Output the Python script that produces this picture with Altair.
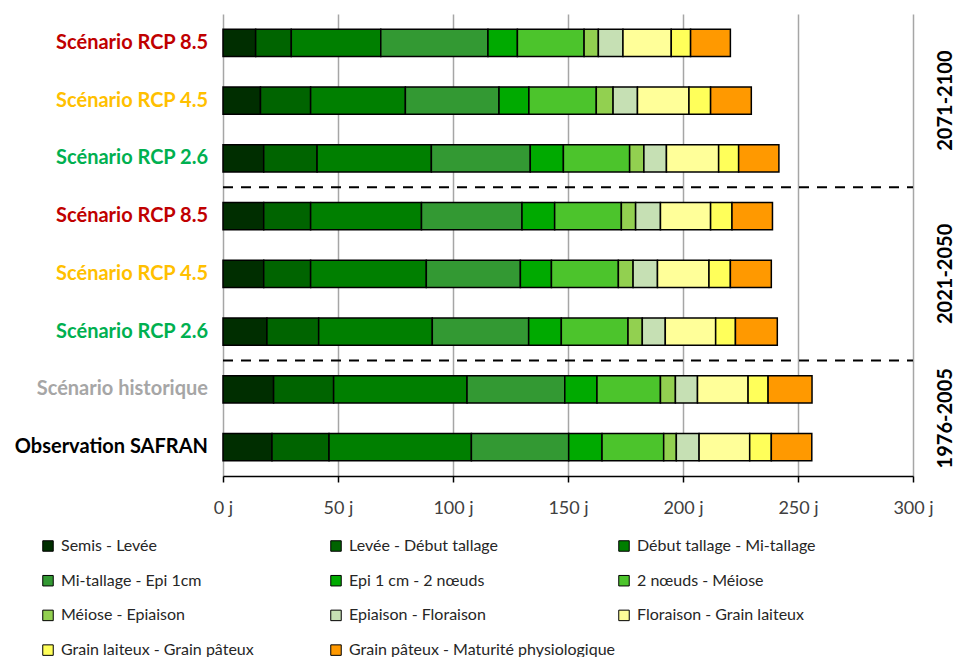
import altair as alt
import pandas as pd

# ---- data -------------------------------------------------------------
scenario_ids = ["s1", "s2", "s3", "s4", "s5", "s6", "s7", "s8"]
scenario_labels = [
    "Scénario RCP 8.5", "Scénario RCP 4.5", "Scénario RCP 2.6",
    "Scénario RCP 8.5", "Scénario RCP 4.5", "Scénario RCP 2.6",
    "Scénario historique", "Observation SAFRAN",
]
label_colors = ["#C00000", "#FFC000", "#00B050",
                "#C00000", "#FFC000", "#00B050",
                "#A6A6A6", "#000000"]

stages = [
    "Semis - Levée", "Levée - Début tallage", "Début tallage - Mi-tallage",
    "Mi-tallage - Epi 1cm", "Epi 1 cm - 2 nœuds", "2 nœuds - Méiose",
    "Méiose - Epiaison", "Epiaison - Floraison", "Floraison - Grain laiteux",
    "Grain laiteux - Grain pâteux", "Grain pâteux - Maturité physiologique",
]
stage_colors = ["#002E00", "#006400", "#007F00", "#339933", "#00AA00",
                "#4CC42C", "#92D050", "#C6E0B4", "#FFFF99", "#FFFF5A", "#FF9900"]

# stage durations (days) per scenario
rcp85_2071 = [14.2, 15.5, 38.9, 46.6, 12.8, 29.0, 6.2, 10.7, 21.0, 8.4, 17.3]
rcp45_2071 = [16.3, 21.8, 41.2, 40.7, 13.0, 29.3, 7.3, 10.6, 22.4, 9.4, 17.7]
rcp26_2071 = [17.7, 23.2, 49.7, 43.0, 14.4, 28.8, 6.2, 9.8, 22.7, 8.7, 17.5]
rcp85_2021 = [17.7, 20.4, 48.2, 43.7, 14.2, 29.0, 6.2, 10.8, 21.8, 9.3, 17.6]
rcp45_2021 = [17.7, 20.4, 50.3, 40.9, 13.5, 29.1, 6.4, 10.6, 22.4, 9.3, 17.8]
rcp26_2021 = [19.1, 22.5, 49.4, 41.9, 14.2, 29.0, 6.2, 10.0, 21.9, 8.6, 18.2]
historique = [22.0, 26.1, 58.0, 42.5, 14.0, 27.6, 6.5, 9.6, 22.0, 8.7, 19.1]
safran_obs = [21.3, 24.8, 61.9, 42.3, 14.5, 26.8, 5.5, 9.9, 22.0, 9.4, 17.6]
all_durations = [rcp85_2071, rcp45_2071, rcp26_2071, rcp85_2021,
                 rcp45_2021, rcp26_2021, historique, safran_obs]

periods = ["2071-2100", "2021-2050", "1976-2005"]
period_centers = [1.5, 4.5, 7.0]   # in scenario-row units
separators = [3, 6]
x_ticks = [0, 50, 100, 150, 200, 250, 300]

# ---- tables ------------------------------------------------------------
rows = []
for sid, durs in zip(scenario_ids, all_durations):
    acc = 0.0
    for k, (st, d) in enumerate(zip(stages, durs)):
        rows.append({"sid": sid, "stage": st, "order": k,
                     "start": acc, "end": acc + d})
        acc += d
bars_df = pd.DataFrame(rows)
scen_df = pd.DataFrame({"sid": scenario_ids, "label": scenario_labels,
                        "lcolor": label_colors})
sep_df = pd.DataFrame({"pos": separators, "x0": [0] * len(separators),
                       "x1": [300] * len(separators)})
per_df = pd.DataFrame({"period": periods, "center": period_centers})

FONT = "Lato"
W, H = 690, 462

x_axis = alt.Axis(values=x_ticks, labelExpr="datum.value + ' j'", title=None,
                  grid=True, gridColor="#A6A6A6", gridWidth=1.5,
                  domainColor="black", domainWidth=1.5, tickColor="black",
                  tickSize=6, tickWidth=1.5, labelFont=FONT, labelFontSize=18,
                  labelColor="#404040", labelPadding=17, labelFlush=False)
x_scale = alt.Scale(domain=[0, 300], nice=False, zero=True)
y_band = alt.Scale(domain=scenario_ids, paddingInner=0.53, paddingOuter=0.265)
y_quant = alt.Scale(domain=[0, 8], reverse=True, nice=False, zero=False)

bars = alt.Chart(bars_df).mark_bar(stroke="black", strokeWidth=1.5).encode(
    x=alt.X("start:Q", scale=x_scale, axis=x_axis),
    x2="end:Q",
    y=alt.Y("sid:N", sort=scenario_ids, scale=y_band,
            axis=alt.Axis(labels=False, title=None, tickBand="extent",
                          domainColor="black", domainWidth=1.5,
                          tickColor="black", tickSize=6, tickWidth=1.5,
                          grid=False)),
    color=alt.Color("stage:N", scale=alt.Scale(domain=stages, range=stage_colors),
                    legend=alt.Legend(title=None, orient="none", legendX=-183,
                                      legendY=524, columns=3, direction="horizontal",
                                      gridAlign="all",
                                      symbolType="square", symbolSize=110,
                                      symbolStrokeColor="black",
                                      symbolStrokeWidth=1, labelFont=FONT,
                                      labelFontSize=16, labelColor="#262626",
                                      labelLimit=400, rowPadding=18.7,
                                      columnPadding=0, labelOffset=5,
                                      padding=0)),
    order=alt.Order("order:Q"),
)

ylabels = alt.Chart(scen_df).mark_text(
    align="right", baseline="middle", font=FONT, fontWeight="bold", fontSize=20
).encode(
    x=alt.value(-15),
    y=alt.Y("sid:N", sort=scenario_ids, scale=y_band, axis=None),
    text="label:N",
    color=alt.Color("lcolor:N", scale=None),
)

dashes = alt.Chart(sep_df).mark_rule(strokeDash=[10, 8], strokeWidth=2,
                                     color="black").encode(
    x=alt.X("x0:Q", scale=x_scale, axis=x_axis),
    x2="x1:Q",
    y=alt.Y("pos:Q", scale=y_quant,
            axis=alt.Axis(orient="right", values=separators, labels=False,
                          title=None, domain=False, grid=False,
                          tickColor="black", tickSize=5, tickWidth=1.5)),
)

period_text = alt.Chart(per_df).mark_text(
    angle=270, align="center", baseline="middle", font=FONT,
    fontWeight="bold", fontSize=20, color="black"
).encode(
    x=alt.value(W + 33),
    y=alt.Y("center:Q", scale=y_quant, axis=None),
    text="period:N",
)

left = alt.layer(bars, ylabels)
right = alt.layer(dashes, period_text)

chart = alt.layer(left, right).resolve_scale(y="independent").properties(
    width=W, height=H,
    autosize=alt.AutoSizeParams(type="none"),
    padding={"left": 215, "top": 6, "right": 44, "bottom": 185},
).configure_view(stroke=None)

chart.save("out.html", embed_options={"renderer": "svg", "actions": False})
